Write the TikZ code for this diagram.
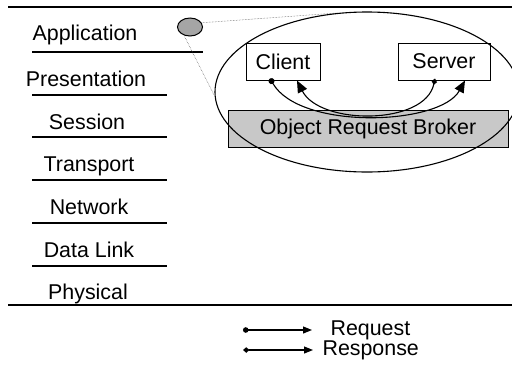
\documentclass[tikz,border=0pt]{standalone}
\usepackage{fontspec}
\setmainfont{Liberation Sans}
\usetikzlibrary{positioning,calc,arrows.meta,shapes.geometric}
\definecolor{ellgray}{RGB}{165,165,165}
\definecolor{orbgray}{RGB}{200,200,200}

\begin{document}
\begin{tikzpicture}[x=1pt,y=-1pt,font=\fontsize{21.4}{24}\selectfont,line width=1.1pt,
  layername/.style={anchor=base,inner sep=0pt},
  box/.style={draw,rectangle,inner sep=0pt,line width=1pt},
  request/.style={{Circle[length=6pt]}-{Triangle[length=12pt,width=10pt]}},
  response/.style={{Diamond[length=6.5pt,width=5.5pt]}-{Triangle[length=12pt,width=10pt]}},
  keyrequest/.style={{Circle[length=5.5pt]}-{Triangle[length=9pt,width=7pt]}},
  keyresponse/.style={{Diamond[length=6.5pt,width=5.5pt]}-{Triangle[length=9pt,width=7pt]}}]
\useasboundingbox (0,0) rectangle (512,376);
% OSI stack
\draw (8,7) -- (512,7);
\draw (8,305) -- (512,305);
\node[layername] (application)  at (85,40)  {Application};
\node[layername] (presentation) at (86,86)  {Presentation};
\node[layername] (session)      at (87,129) {Session};
\node[layername] (transport)    at (89,171) {Transport};
\node[layername] (network)      at (89,214) {Network};
\node[layername] (datalink)     at (89,257) {Data Link};
\node[layername] (physical)     at (88,299) {Physical};
\draw (32,52) -- (203,52);
\foreach \y in {95,137,180,223,266}
  \draw (32,\y) -- (167,\y);
% zoom on the application layer
\node[draw,ellipse,fill=ellgray,line width=1pt,minimum width=25pt,minimum height=18pt,inner sep=0pt] (appdot) at (190,27) {};
\coordinate (zoomtop) at (337,13);
\coordinate (zoomleft) at (214,95);
\draw[densely dotted,line width=0.5pt,black!70] (appdot.20) -- (zoomtop);
\draw[densely dotted,line width=0.5pt,black!70] (appdot.235) -- (zoomleft);
% broker and objects
\node[box,fill=orbgray,minimum width=280pt,minimum height=37pt] (orb) at (368,128.5) {Object Request Broker};
\node[box,minimum width=74pt,minimum height=37pt] (client) at (283,61.5) {Client};
\node[box,minimum width=92pt,minimum height=37pt] (server) at (444,61.5) {Server};
\coordinate (clientout) at ($(client.south)+(-13,-2)$);
\coordinate (clientin) at ($(client.south)+(14,0)$);
\coordinate (serverout) at ($(server.south)+(-9,-2)$);
\coordinate (serverin) at ($(server.south)+(21,0)$);
\draw[request] (clientout) .. controls ++(30,52) and ++(-25,45) .. (serverin);
\draw[response] (serverout) .. controls ++(-10,47) and ++(23,45) .. (clientin);
\draw (367,92) ellipse (152 and 80);
% key
\coordinate (reqtail) at (243,330);
\coordinate (resptail) at (243,350);
\node[anchor=west,inner sep=0pt] (reqlabel) at (330,330) {Request};
\node[anchor=west,inner sep=0pt] (resplabel) at (322,350) {Response};
\draw[keyrequest] (reqtail) -- ([xshift=-18pt]reqlabel.west);
\draw[keyresponse] (resptail) -- ([xshift=-9pt]resplabel.west);
\end{tikzpicture}
\end{document}
